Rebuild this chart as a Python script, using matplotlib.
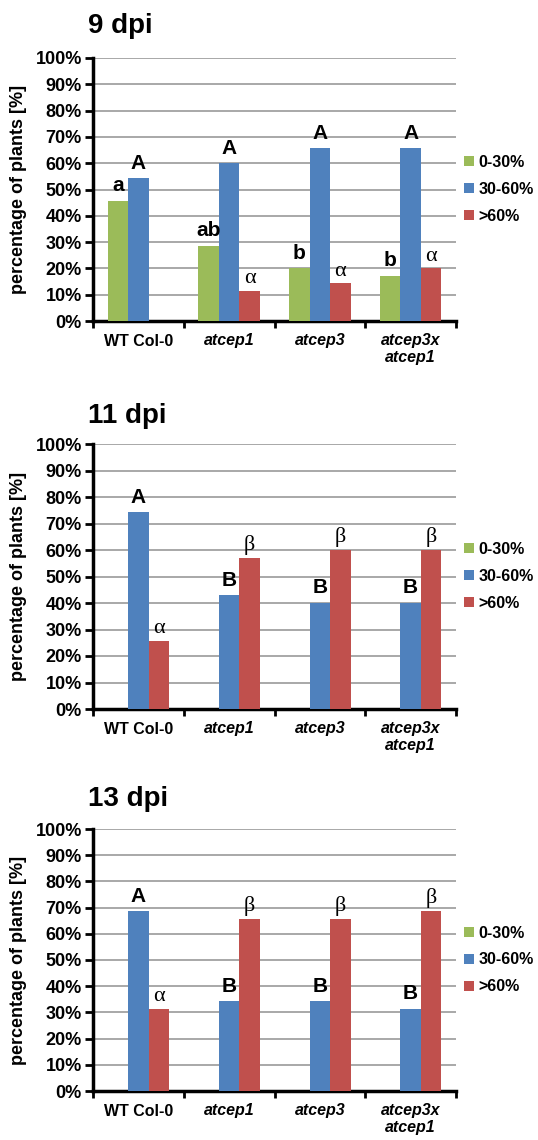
import matplotlib
matplotlib.use("Agg")
import matplotlib.pyplot as plt
import numpy as np

# genotypes on the x axis
genotypes = ["WT Col-0", "atcep1", "atcep3", "atcep3x\natcep1"]
italic = [False, True, True, True]
classes = ["0-30%", "30-60%", ">60%"]
days = ["9 dpi", "11 dpi", "13 dpi"]

# percentage of plants per symptom class, one list per day
low_9 = [45.7, 28.6, 20.0, 17.1]
mid_9 = [54.3, 60.0, 65.7, 65.7]
high_9 = [0.0, 11.4, 14.3, 20.0]

low_11 = [0.0, 0.0, 0.0, 0.0]
mid_11 = [74.3, 42.9, 40.0, 40.0]
high_11 = [25.7, 57.1, 60.0, 60.0]

low_13 = [0.0, 0.0, 0.0, 0.0]
mid_13 = [68.6, 34.3, 34.3, 31.4]
high_13 = [31.4, 65.7, 65.7, 68.6]

# significance letters above the bars
letters_low_9 = ["a", "ab", "b", "b"]
letters_mid_9 = ["A", "A", "A", "A"]
letters_high_9 = ["", "α", "α", "α"]
letters_mid_late = ["A", "B", "B", "B"]
letters_high_late = ["α", "β", "β", "β"]

panels = [
    (days[0], [low_9, mid_9, high_9], [letters_low_9, letters_mid_9, letters_high_9]),
    (days[1], [low_11, mid_11, high_11], [[""] * 4, letters_mid_late, letters_high_late]),
    (days[2], [low_13, mid_13, high_13], [[""] * 4, letters_mid_late, letters_high_late]),
]

colors = ["#9bbb59", "#4f81bd", "#c0504d"]
sans = "Liberation Sans"

W, H = 538, 1140
fig = plt.figure(figsize=(W / 100, H / 100), dpi=100)

# axes boxes in pixels: (top, bottom)
boxes = [(58, 321), (444, 709), (829, 1091)]
left_px, right_px = 93, 456
title_base = [33, 423, 806]

x = np.arange(len(genotypes))
width = 0.225

for (day, series, letters), (top, bot), tb in zip(panels, boxes, title_base):
    ax = fig.add_axes([left_px / W, 1 - bot / H, (right_px - left_px) / W, (bot - top) / H])
    for i, (vals, labs) in enumerate(zip(series, letters)):
        pos = x + (i - 1) * width
        ax.bar(pos, vals, width, color=colors[i], label=classes[i], zorder=3)
        for xp, v, t in zip(pos, vals, labs):
            if not t:
                continue
            if t in "αβ":
                ax.annotate(t, (xp, v), xytext=(0, 2), textcoords="offset points",
                            ha="center", va="bottom", fontsize=16,
                            family="Liberation Serif", zorder=4)
            else:
                ax.annotate(t, (xp, v), xytext=(0, 4), textcoords="offset points",
                            ha="center", va="bottom", fontsize=15,
                            family=sans, weight="bold", zorder=4)

    ax.set_xlim(-0.5, len(genotypes) - 0.5)
    ax.set_ylim(0, 100)
    ax.set_yticks(np.arange(0, 101, 10))
    ax.set_yticklabels([f"{v}%" for v in range(0, 101, 10)], family=sans,
                       weight="bold", fontsize=13)
    ax.yaxis.grid(True, color="#9a9a9a", linewidth=1.2, zorder=0)
    ax.set_axisbelow(True)

    ax.set_xticks(x)
    ax.set_xticklabels(genotypes, family=sans, weight="bold", fontsize=11.5,
                       linespacing=1.15, va="top")
    for lab, it in zip(ax.get_xticklabels(), italic):
        if it:
            lab.set_style("italic")
    ax.set_xticks(np.arange(-0.5, len(genotypes)), minor=True)
    ax.tick_params(axis="x", which="major", length=0, pad=9)
    ax.tick_params(axis="x", which="minor", length=5, width=2, direction="out")
    ax.tick_params(axis="y", length=6, width=2, direction="out", pad=2)

    for s in ["top", "right"]:
        ax.spines[s].set_visible(False)
    for s in ["left", "bottom"]:
        ax.spines[s].set_linewidth(2.5)
        ax.spines[s].set_color("black")

    ax.legend(loc="center left", bbox_to_anchor=(1.0, 0.5), frameon=False,
              handlelength=0.6, handleheight=0.6, handletextpad=0.3,
              labelspacing=0.75, borderaxespad=0.3, borderpad=0.2,
              prop={"family": sans, "weight": "bold", "size": 11.5})

    fig.text(88 / W, 1 - tb / H, day, family=sans, weight="bold", fontsize=20,
             ha="left", va="baseline")
    fig.text(19 / W, 1 - (top + bot) / 2 / H, "percentage of plants [%]",
             rotation=90, family=sans, weight="bold", fontsize=13,
             ha="center", va="center")

fig.savefig("out.png", dpi=100, facecolor="white")
